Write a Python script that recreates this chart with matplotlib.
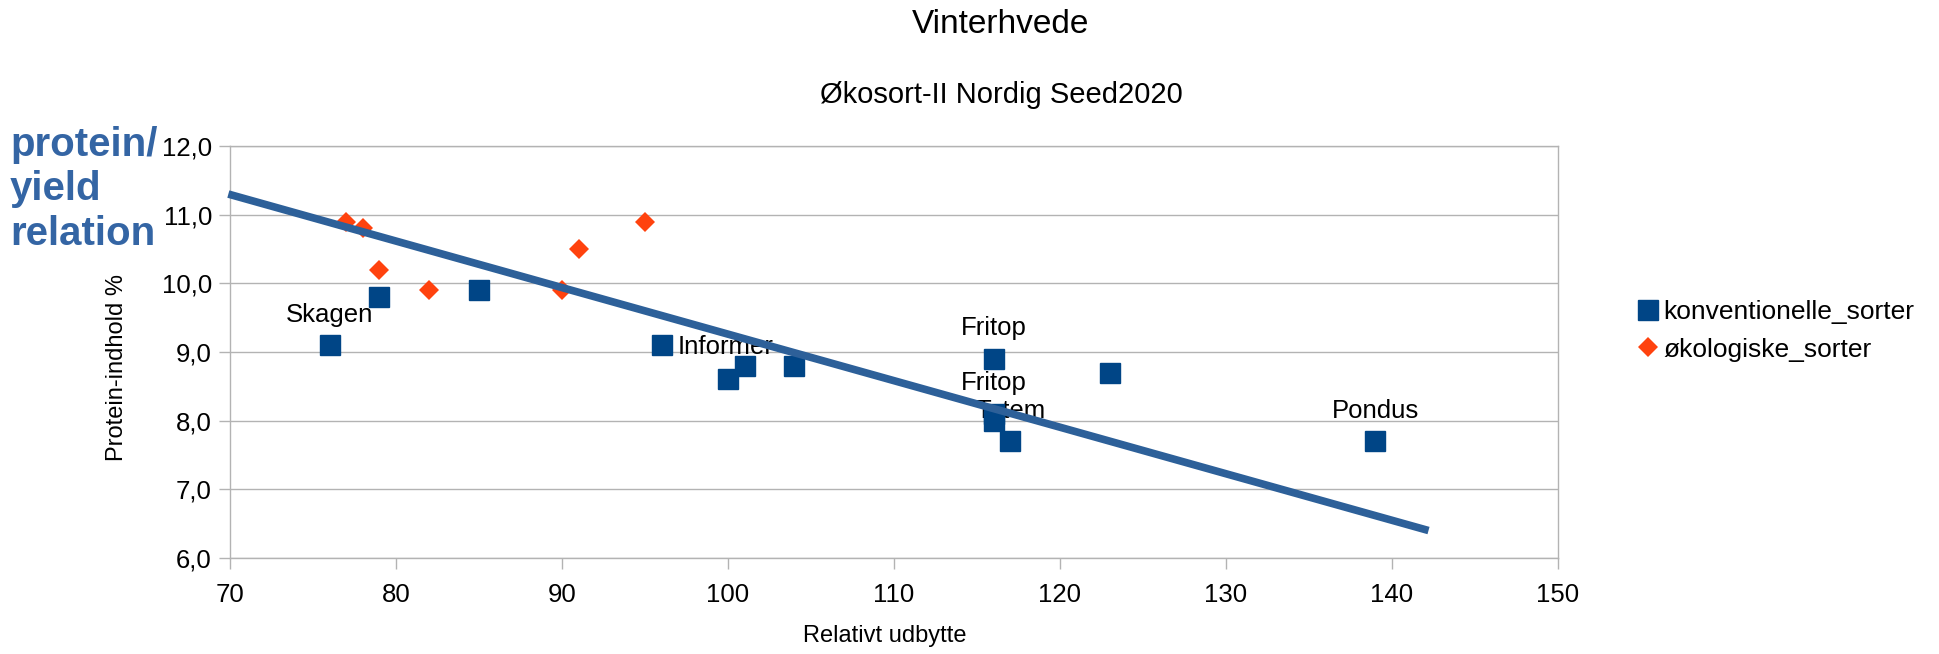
import matplotlib
matplotlib.use("Agg")
import matplotlib.pyplot as plt
from matplotlib.ticker import FuncFormatter

plt.rcParams['font.family'] = ['Liberation Sans', 'DejaVu Sans']

# --- data ---
konv_x = [76, 79, 85, 96, 100, 101, 104, 116, 116, 116, 117, 123, 139]
konv_y = [9.1, 9.8, 9.9, 9.1, 8.6, 8.8, 8.8, 8.9, 8.1, 8.0, 7.7, 8.7, 7.7]
konv_labels = ["Skagen", "", "", "Informer", "", "", "", "Fritop", "Fritop", "", "Totem", "", "Pondus"]

oko_x = [77, 78, 79, 82, 90, 91, 95]
oko_y = [10.9, 10.8, 10.2, 9.9, 9.9, 10.5, 10.9]

trend_x = [69.9, 142.2]
trend_y = [11.3, 6.4]

x_ticks = [70, 80, 90, 100, 110, 120, 130, 140, 150]
y_ticks = [6, 7, 8, 9, 10, 11, 12]

title = "Vinterhvede"
subtitle = "Økosort-II Nordig Seed2020"
x_label = "Relativt udbytte"
y_label = "Protein-indhold %"
side_lines = ["protein/", "yield", "relation"]
series_names = ["konventionelle_sorter", "økologiske_sorter"]

# --- colours ---
C_KONV = "#004586"
C_OKO = "#ff420e"
C_TREND = "#2d6099"
C_GRID = "#b3b3b3"
C_SIDE = "#3465a4"

fig = plt.figure(figsize=(19.4, 6.54), dpi=100)
ax = fig.add_axes([230/1940, 1-558/654, (1558-230)/1940, (558-146)/654])

ax.set_xlim(70, 150)
ax.set_ylim(6, 12)
ax.set_xticks(x_ticks)
ax.set_yticks(y_ticks)
ax.yaxis.set_major_formatter(FuncFormatter(lambda v, p: f"{v:.1f}".replace(".", ",")))
ax.tick_params(axis='both', direction='out', length=8, width=1, color=C_GRID,
               labelsize=18.5, labelcolor='black')
ax.tick_params(axis='x', pad=10)
ax.tick_params(axis='y', pad=5)
ax.grid(axis='y', color=C_GRID, linewidth=1.0, zorder=0)
ax.set_axisbelow(True)
for s in ax.spines.values():
    s.set_color(C_GRID)
    s.set_linewidth(1.0)

ax.plot(konv_x, konv_y, linestyle='none', marker='s', markersize=14,
        color=C_KONV, label=series_names[0], zorder=4)
ax.plot(oko_x, oko_y, linestyle='none', marker='D', markersize=9.8,
        color=C_OKO, markeredgewidth=0, label=series_names[1], zorder=4)

for x, y, lab in zip(konv_x, konv_y, konv_labels):
    if not lab:
        continue
    if lab == "Informer":
        ax.annotate(lab, (x, y), xytext=(11.5, -1), textcoords='offset points',
                    ha='left', va='center', fontsize=18.5, zorder=3)
    else:
        ax.annotate(lab, (x, y), xytext=(0, 22), textcoords='offset points',
                    ha='center', va='center', fontsize=18.5, zorder=3)

ax.plot(trend_x, trend_y, color=C_TREND, linewidth=5.5, solid_capstyle='butt',
        zorder=6, clip_on=False)

ax.set_xlabel(x_label, fontsize=17)
ax.set_ylabel(y_label, fontsize=17)
ax.xaxis.set_label_coords(0.493, -0.162)
ax.yaxis.set_label_coords(-0.077, 0.462)

leg = ax.legend(loc='upper left', bbox_to_anchor=(1640/1940, 1-300/654),
                bbox_transform=fig.transFigure, frameon=False, fontsize=19,
                handlelength=0.6, handletextpad=0.3, labelspacing=0.52,
                borderaxespad=0, borderpad=0)

fig.text(1001/1940, 1-33/654, title, ha='center', va='baseline', fontsize=24)
fig.text(1001/1940, 1-103/654, subtitle, ha='center', va='baseline', fontsize=21)

for txt, base in zip(side_lines, [156, 200, 245]):
    fig.text(10/1940, 1-base/654, txt, ha='left', va='baseline', fontsize=29,
             fontweight='bold', color=C_SIDE)

fig.savefig("out.png", dpi=100)
